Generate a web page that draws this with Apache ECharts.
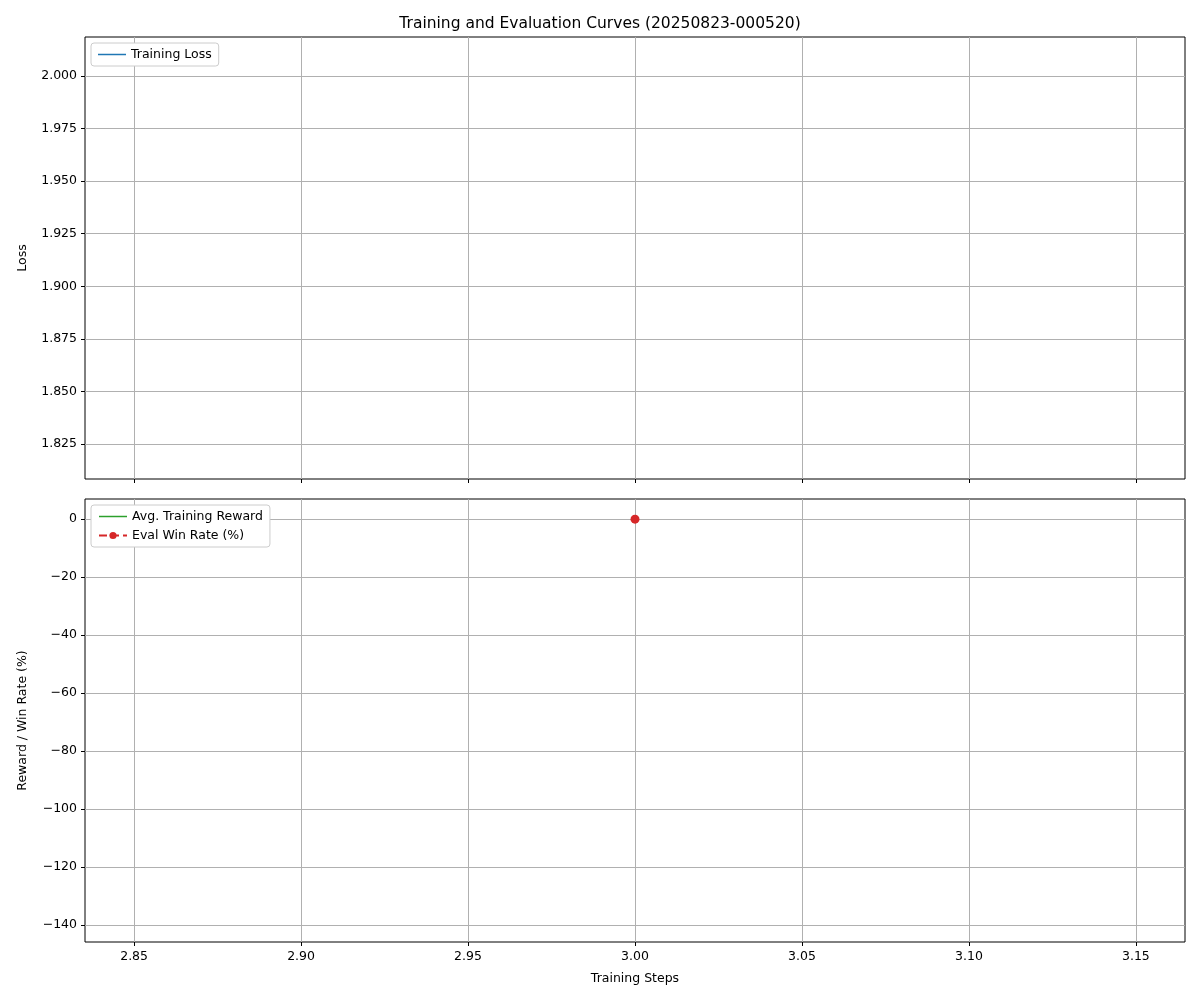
<!DOCTYPE html>
<html>
<head>
<meta charset="utf-8">
<script src="https://cdn.jsdelivr.net/npm/echarts@6/dist/echarts.min.js"></script>
<style>
  html, body { margin: 0; padding: 0; background: #fff; }
  #chart { width: 1200px; height: 1000px; }
</style>
</head>
<body>
<div id="chart"></div>
<script>
const steps = [3];
const trainingLoss = [1.9135];
const avgReward = [-139];
const evalWinRate = [0];

const xTicks = [2.85, 2.90, 2.95, 3.00, 3.05, 3.10, 3.15];
const lossTicks = [1.825, 1.850, 1.875, 1.900, 1.925, 1.950, 1.975, 2.000];
const rewardTicks = [-140, -120, -100, -80, -60, -40, -20, 0];

const font = 'DejaVu Sans';
const fs = 12.5;
const gridLine = { show: true, lineStyle: { color: '#b0b0b0', width: 1 } };
const lineIcon = 'path://M0,0H28V1.5H0Z';

function xAxisDef(idx, showLabels) {
  return {
    type: 'value', gridIndex: idx, min: 2.8353, max: 3.1647,
    name: showLabels ? 'Training Steps' : '',
    nameLocation: 'middle', nameGap: 30,
    nameTextStyle: { color: '#000', fontSize: fs, fontFamily: font },
    axisLine: { show: false, onZero: false },
    axisTick: { show: true, customValues: xTicks, inside: false, length: 4, lineStyle: { color: '#000' } },
    axisLabel: { show: showLabels, customValues: xTicks, color: '#000', fontSize: fs, fontFamily: font,
      formatter: v => v.toFixed(2) },
    splitLine: gridLine
  };
}

const legendBase = {
  left: 91, orient: 'vertical', itemGap: 6,
  backgroundColor: '#fff', borderColor: '#ccc', borderWidth: 1, borderRadius: 3,
  padding: [5, 7], itemWidth: 28, itemHeight: 9,
  textStyle: { fontFamily: font, fontSize: fs, color: '#000' }
};

const chart = echarts.init(document.getElementById('chart'));
chart.setOption({
  animation: false,
  title: {
    text: 'Training and Evaluation Curves (20250823-000520)',
    left: 'center', top: 11,
    textStyle: { fontFamily: font, fontSize: 15.5, fontWeight: 'normal', color: '#000' }
  },
  grid: [
    { left: 85, right: 15, top: 37, height: 442, show: true, borderColor: '#000', borderWidth: 1 },
    { left: 85, right: 15, top: 499, height: 443, show: true, borderColor: '#000', borderWidth: 1 }
  ],
  legend: [
    Object.assign({}, legendBase, {
      top: 43, data: [{ name: 'Training Loss', icon: lineIcon }]
    }),
    Object.assign({}, legendBase, {
      top: 505,
      data: [{ name: 'Avg. Training Reward', icon: lineIcon }, { name: 'Eval Win Rate (%)' }]
    })
  ],
  xAxis: [xAxisDef(0, false), xAxisDef(1, true)],
  yAxis: [
    {
      type: 'value', gridIndex: 0, min: 1.8084, max: 2.0185,
      name: 'Loss', nameLocation: 'middle', nameGap: 56,
      nameTextStyle: { color: '#000', fontSize: fs, fontFamily: font },
      axisLine: { show: false, onZero: false },
      axisTick: { show: true, customValues: lossTicks, length: 4, lineStyle: { color: '#000' } },
      axisLabel: { customValues: lossTicks, color: '#000', fontSize: fs, fontFamily: font,
        formatter: v => v.toFixed(3) },
      splitLine: gridLine
    },
    {
      type: 'value', gridIndex: 1, min: -145.95, max: 6.95,
      name: 'Reward / Win Rate (%)', nameLocation: 'middle', nameGap: 56,
      nameTextStyle: { color: '#000', fontSize: fs, fontFamily: font },
      axisLine: { show: false, onZero: false },
      axisTick: { show: true, customValues: rewardTicks, length: 4, lineStyle: { color: '#000' } },
      axisLabel: { customValues: rewardTicks, color: '#000', fontSize: fs, fontFamily: font,
        formatter: v => (v < 0 ? '\u2212' + Math.abs(v) : String(v)) },
      splitLine: gridLine
    }
  ],
  series: [
    {
      name: 'Training Loss', type: 'line', xAxisIndex: 0, yAxisIndex: 0,
      symbol: 'none', color: '#1f77b4', lineStyle: { width: 1.5 },
      data: steps.map((s, i) => [s, trainingLoss[i]])
    },
    {
      name: 'Avg. Training Reward', type: 'line', xAxisIndex: 1, yAxisIndex: 1,
      symbol: 'none', color: '#2ca02c', lineStyle: { width: 1.5 },
      data: steps.map((s, i) => [s, avgReward[i]])
    },
    {
      name: 'Eval Win Rate (%)', type: 'line', xAxisIndex: 1, yAxisIndex: 1,
      symbol: 'circle', symbolSize: 9, color: '#d62728',
      lineStyle: { width: 1.5, type: 'dashed' },
      data: steps.map((s, i) => [s, evalWinRate[i]])
    }
  ]
});
</script>
</body>
</html>
